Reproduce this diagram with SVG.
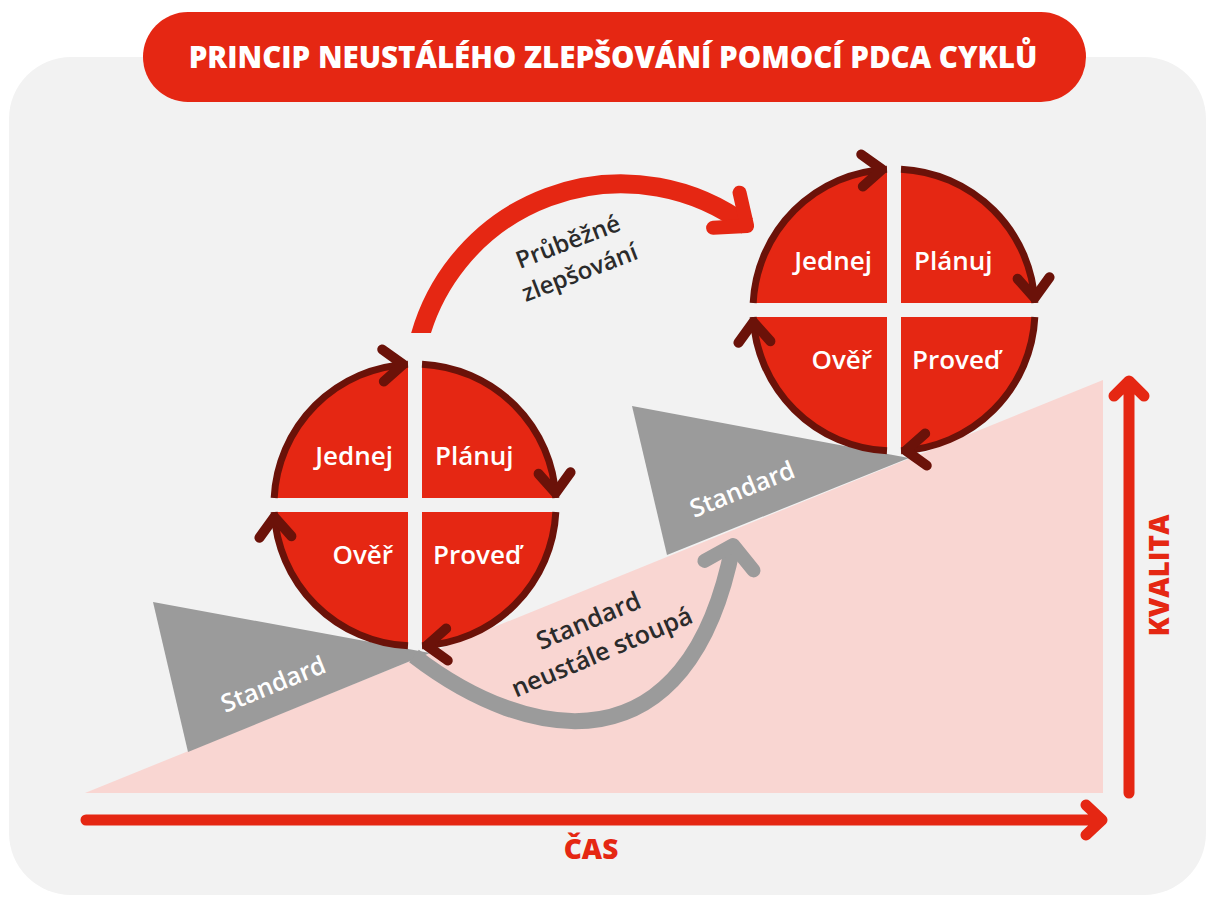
<svg xmlns="http://www.w3.org/2000/svg" width="1208" height="897" viewBox="0 0 1208 897">
<style>
text{font-family:"Open Sans","Noto Sans","Liberation Sans",sans-serif}
.q{fill:#e52713}
.ring{fill:none;stroke:#6b1209;stroke-width:7;marker-end:url(#chevDark)}
.qt{fill:#fff;font-size:26px;font-weight:600}
.st{fill:#fff;font-size:25px;font-weight:600;text-anchor:middle}
.lbl{fill:#2b2b2b;font-size:24px;font-weight:600;text-anchor:middle}
.axis{fill:#e52713;font-size:28px;font-weight:800;text-anchor:middle}
.axl{fill:none;stroke:#e52713;stroke-width:11;stroke-linecap:round;stroke-linejoin:round}
.wedge{fill:#9b9b9b}
</style>
<defs>
<marker id="chevDark" markerUnits="userSpaceOnUse" orient="auto" refX="5" refY="0" markerWidth="60" markerHeight="60" overflow="visible">
<path d="M-20,-16 L0,0 L-20,16" fill="none" stroke="#6b1209" stroke-width="10" stroke-linejoin="round" stroke-linecap="round"/>
</marker>
<marker id="chevRed" markerUnits="userSpaceOnUse" orient="auto" refX="0" refY="0" markerWidth="60" markerHeight="60" overflow="visible">
<path d="M-26,-22 L0,0 L-26,22" fill="none" stroke="#e52713" stroke-width="14" stroke-linejoin="round" stroke-linecap="round"/>
</marker>
<marker id="chevGray" markerUnits="userSpaceOnUse" orient="auto" refX="0" refY="0" markerWidth="60" markerHeight="60" overflow="visible">
<path d="M-21,-25 L0,0 L-21,25" fill="none" stroke="#9b9b9b" stroke-width="14" stroke-linejoin="round" stroke-linecap="round"/>
</marker>
<clipPath id="redClip"><rect x="0" y="0" width="1208" height="333"/></clipPath>
</defs>

<rect id="background" x="9" y="57" width="1197" height="838" rx="62" fill="#f2f2f2"/>

<polygon id="ramp" points="85,793 1103,380 1103,793" fill="#f9d6d2"/>

<g id="standard-1">
<polygon class="wedge" points="153,602 188,752 430,653"/>
<text class="st" transform="translate(273,684) rotate(-22)" x="0" y="9">Standard</text>
</g>
<g id="standard-2">
<polygon class="wedge" points="632,406 667,555 909,458"/>
<text class="st" transform="translate(742,489) rotate(-22)" x="0" y="9">Standard</text>
</g>

<g id="connectors">
<path id="arc-standard" d="M414,656 C530,745 689,772 733,545" fill="none" stroke="#9b9b9b" stroke-width="16" marker-end="url(#chevGray)"/>
<g clip-path="url(#redClip)">
<path id="arc-zlepsovani" d="M416.9,349.3 A209,209 0 0 1 747.1,225.9" fill="none" stroke="#e52713" stroke-width="19" marker-end="url(#chevRed)"/>
</g>
</g>

<g id="connector-labels">
<g transform="translate(573,255) rotate(-21)">
<text class="lbl" x="0" y="-6">Průběžné</text>
<text class="lbl" x="0" y="27">zlepšování</text>
</g>
<g transform="translate(595,636) rotate(-23)">
<text class="lbl" x="0" y="-8" style="font-size:25px">Standard</text>
<text class="lbl" x="0" y="26" style="font-size:25px">neustále stoupá</text>
</g>
</g>

<g id="pdca-1" transform="translate(415,505)">
<path class="q" d="M-7,-7 L-7,-140.83 A141,141 0 0 0 -140.83,-7 Z"/>
<path class="q" d="M7,-7 L140.83,-7 A141,141 0 0 0 7,-140.83 Z"/>
<path class="q" d="M7,7 L7,140.83 A141,141 0 0 0 140.83,7 Z"/>
<path class="q" d="M-7,7 L-140.83,7 A141,141 0 0 0 -7,140.83 Z"/>
<path class="ring" d="M-140.83,-7 A141,141 0 0 1 -7,-140.83"/>
<path class="ring" d="M7,-140.83 A141,141 0 0 1 140.83,-7"/>
<path class="ring" d="M140.83,7 A141,141 0 0 1 7,140.83"/>
<path class="ring" d="M-7,140.83 A141,141 0 0 1 -140.83,7"/>
<text class="qt" x="-22" y="-40" text-anchor="end">Jednej</text>
<text class="qt" x="20" y="-40">Plánuj</text>
<text class="qt" x="-22" y="59" text-anchor="end">Ověř</text>
<text class="qt" x="18" y="59">Proveď</text>
</g>

<g id="pdca-2" transform="translate(894,310)">
<path class="q" d="M-7,-7 L-7,-140.83 A141,141 0 0 0 -140.83,-7 Z"/>
<path class="q" d="M7,-7 L140.83,-7 A141,141 0 0 0 7,-140.83 Z"/>
<path class="q" d="M7,7 L7,140.83 A141,141 0 0 0 140.83,7 Z"/>
<path class="q" d="M-7,7 L-140.83,7 A141,141 0 0 0 -7,140.83 Z"/>
<path class="ring" d="M-140.83,-7 A141,141 0 0 1 -7,-140.83"/>
<path class="ring" d="M7,-140.83 A141,141 0 0 1 140.83,-7"/>
<path class="ring" d="M140.83,7 A141,141 0 0 1 7,140.83"/>
<path class="ring" d="M-7,140.83 A141,141 0 0 1 -140.83,7"/>
<text class="qt" x="-22" y="-40" text-anchor="end">Jednej</text>
<text class="qt" x="20" y="-40">Plánuj</text>
<text class="qt" x="-22" y="59" text-anchor="end">Ověř</text>
<text class="qt" x="18" y="59">Proveď</text>
</g>

<g id="axes">
<path class="axl" d="M86,820 L1100,820 M1086,805 L1102,820 L1086,835"/>
<path class="axl" d="M1129,793 L1129,382 M1114,396 L1129,381 L1144,396"/>
<text class="axis" x="591" y="859">ČAS</text>
<text class="axis" transform="translate(1169,575.5) rotate(-90)" x="0" y="0">KVALITA</text>
</g>

<g id="title">
<rect x="143" y="12" width="943" height="90" rx="45" fill="#e52713"/>
<text x="613" y="68" fill="#fff" font-size="29.5" font-weight="800" text-anchor="middle">PRINCIP NEUSTÁLÉHO ZLEPŠOVÁNÍ POMOCÍ PDCA CYKLŮ</text>
</g>
</svg>
